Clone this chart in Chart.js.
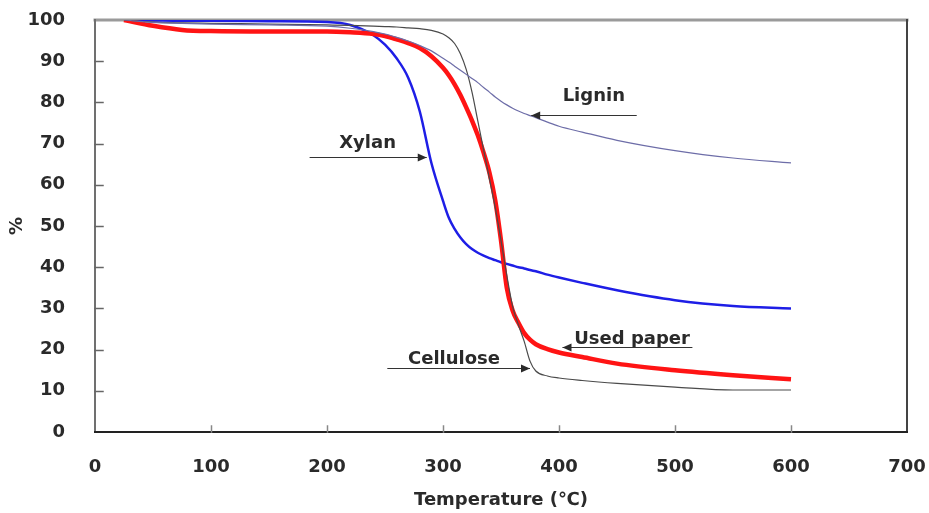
<!DOCTYPE html>
<html>
<head>
<meta charset="utf-8">
<script src="https://cdn.jsdelivr.net/npm/chart.js@4"></script>
<style>
  html, body { margin: 0; padding: 0; background: #fff; }
  #wrap { width: 929px; height: 513px; }
</style>
</head>
<body>
<div id="wrap"><canvas id="tga"></canvas></div>
<script>
// TG curves, weight % vs temperature
var temps = [25, 50, 75, 100, 150, 200, 220, 240, 250, 260, 270, 280, 290, 300, 305, 310, 315, 320, 325, 330, 335, 340, 345, 350, 355, 360, 365, 370, 375, 380, 390, 400, 420, 450, 500, 550, 600];
var xylan = [100, 99.9, 99.8, 99.8, 99.7, 99.5, 98.8, 96.3, 94, 90.7, 86, 77.8, 65.3, 56.1, 52, 49.3, 47.2, 45.6, 44.4, 43.5, 42.8, 42.2, 41.7, 41.2, 40.8, 40.4, 40, 39.7, 39.3, 39, 38.2, 37.5, 36.2, 34.4, 32, 30.6, 30];
var usedPaper = [100, 98.6, 97.6, 97.3, 97.2, 97.2, 97, 96.6, 96.1, 95.3, 94.4, 93.2, 91.2, 88.4, 86.6, 84.4, 81.8, 78.8, 75.6, 72, 67.8, 63, 56.3, 46.5, 35, 29.5, 26.5, 24, 22.4, 21.3, 20.1, 19.3, 18.2, 16.6, 15, 13.8, 12.8];
var cellulose = [100, 99.5, 99.3, 99.2, 99, 98.8, 98.7, 98.5, 98.4, 98.3, 98.1, 97.9, 97.5, 96.6, 95.7, 94.3, 91.8, 88, 82.5, 75.5, 68.5, 61.5, 54.5, 46.5, 38, 30.5, 26, 22, 17.2, 14.8, 13.6, 13.1, 12.5, 11.8, 10.9, 10.2, 10.2];
var lignin = [100, 99.4, 99.2, 99, 98.8, 98.5, 98, 97.2, 96.6, 95.8, 94.9, 93.8, 92.5, 90.7, 89.8, 88.8, 87.8, 86.8, 85.8, 84.8, 83.6, 82.5, 81.3, 80.3, 79.4, 78.6, 77.9, 77.3, 76.8, 76.3, 75.2, 74.2, 72.8, 70.8, 68.3, 66.5, 65.3];

var xTicks = [0, 100, 200, 300, 400, 500, 600, 700];
var yTicks = [0, 10, 20, 30, 40, 50, 60, 70, 80, 90, 100];

function pts(ys) {
  return temps.map(function(t, i) { return {x: t, y: ys[i]}; });
}

var FONT = {family: '"DejaVu Sans", sans-serif', size: 18, weight: 'bold'};
var INK = '#2a2a2a';

// callouts: text + arrow line (data units), arrow tip at x2
var notes = [
  {text: 'Lignin', tx: 430, ty: 80.3, x1: 467, x2: 376, y: 76.9},
  {text: 'Xylan', tx: 235, ty: 68.9, x1: 185, x2: 286, y: 66.7},
  {text: 'Cellulose', tx: 309.5, ty: 16.4, x1: 252, x2: 375, y: 15.5},
  {text: 'Used paper', tx: 463, ty: 21.4, x1: 515, x2: 403, y: 20.6}
];

function arrow(ctx, x1, x2, y) {
  var dir = x2 > x1 ? 1 : -1;
  ctx.beginPath();
  ctx.moveTo(x1, y);
  ctx.lineTo(x2, y);
  ctx.stroke();
  ctx.beginPath();
  ctx.moveTo(x2, y);
  ctx.lineTo(x2 - dir * 9, y - 4);
  ctx.lineTo(x2 - dir * 9, y + 4);
  ctx.closePath();
  ctx.fill();
}

var frame = {
  id: 'frame',
  beforeDatasetsDraw: function(chart) {
    var ctx = chart.ctx, a = chart.chartArea;
    var xs = chart.scales.x, ys = chart.scales.y;
    ctx.save();
    ctx.lineCap = 'square';
    ctx.strokeStyle = '#9a9a9a'; ctx.lineWidth = 3;
    ctx.beginPath(); ctx.moveTo(a.left, a.top); ctx.lineTo(a.right, a.top); ctx.stroke();
    ctx.strokeStyle = '#444'; ctx.lineWidth = 2;
    ctx.beginPath(); ctx.moveTo(a.right, a.top); ctx.lineTo(a.right, a.bottom); ctx.stroke();
    ctx.strokeStyle = '#707070';
    ctx.beginPath(); ctx.moveTo(a.left, a.top); ctx.lineTo(a.left, a.bottom); ctx.stroke();
    ctx.strokeStyle = '#222';
    ctx.beginPath(); ctx.moveTo(a.left, a.bottom); ctx.lineTo(a.right, a.bottom); ctx.stroke();
    // inward tick marks
    ctx.lineWidth = 1.5;
    ctx.strokeStyle = '#666';
    ys.ticks.forEach(function(t) {
      if (t.value <= 0 || t.value >= 100) return;
      var py = Math.round(ys.getPixelForValue(t.value)) + 0.5;
      ctx.beginPath(); ctx.moveTo(a.left, py); ctx.lineTo(a.left + 8, py); ctx.stroke();
    });
    ctx.strokeStyle = '#888';
    xs.ticks.forEach(function(t) {
      if (t.value <= 0 || t.value >= 700) return;
      var px = Math.round(xs.getPixelForValue(t.value)) + 0.5;
      ctx.beginPath(); ctx.moveTo(px, a.bottom); ctx.lineTo(px, a.bottom - 6); ctx.stroke();
    });
    ctx.restore();
  },
  afterDatasetsDraw: function(chart) {
    var ctx = chart.ctx;
    var xs = chart.scales.x, ys = chart.scales.y;
    ctx.save();
    ctx.font = FONT.weight + ' ' + FONT.size + 'px ' + FONT.family;
    ctx.textAlign = 'center';
    ctx.textBaseline = 'alphabetic';
    ctx.fillStyle = INK;
    ctx.strokeStyle = '#333';
    ctx.lineWidth = 1;
    notes.forEach(function(n) {
      ctx.fillText(n.text, xs.getPixelForValue(n.tx), ys.getPixelForValue(n.ty));
      var py = Math.round(ys.getPixelForValue(n.y)) + 0.5;
      arrow(ctx, xs.getPixelForValue(n.x1), xs.getPixelForValue(n.x2), py);
    });
    ctx.restore();
  }
};

new Chart(document.getElementById('tga'), {
  type: 'line',
  data: {
    datasets: [
      {label: 'Lignin', data: pts(lignin), borderColor: '#6d6da8', borderWidth: 1.2, order: 0},
      {label: 'Cellulose', data: pts(cellulose), borderColor: '#4a4a4a', borderWidth: 1.2, order: 1},
      {label: 'Used paper', data: pts(usedPaper), borderColor: '#ff1414', borderWidth: 4.5, order: 2},
      {label: 'Xylan', data: pts(xylan), borderColor: '#1e1ee6', borderWidth: 2.5, order: 3}
    ]
  },
  options: {
    responsive: true,
    maintainAspectRatio: false,
    animation: false,
    layout: {padding: {top: 20, right: 22, left: 0, bottom: 0}},
    elements: {
      point: {radius: 0},
      line: {cubicInterpolationMode: 'monotone', fill: false}
    },
    plugins: {legend: {display: false}, tooltip: {enabled: false}},
    scales: {
      x: {
        type: 'linear', min: 0, max: 700,
        afterBuildTicks: function(s) { s.ticks = xTicks.map(function(v) { return {value: v}; }); },
        afterFit: function(s) { s.height = 81; s.paddingLeft = 0; s.paddingRight = 0; },
        grid: {display: false},
        border: {display: false},
        ticks: {font: FONT, color: INK, padding: 17, maxRotation: 0},
        title: {display: true, text: 'Temperature (℃)', font: FONT, color: INK, padding: {top: 0, bottom: 2}}
      },
      y: {
        min: 0, max: 100,
        afterBuildTicks: function(s) { s.ticks = yTicks.map(function(v) { return {value: v}; }); },
        afterFit: function(s) { s.width = 95; s.paddingTop = 0; s.paddingBottom = 0; },
        grid: {display: false},
        border: {display: false},
        ticks: {font: FONT, color: INK, padding: 22},
        title: {display: true, text: '%', font: FONT, color: INK, padding: {top: 7, bottom: 0}}
      }
    }
  },
  plugins: [frame]
});
</script>
</body>
</html>
